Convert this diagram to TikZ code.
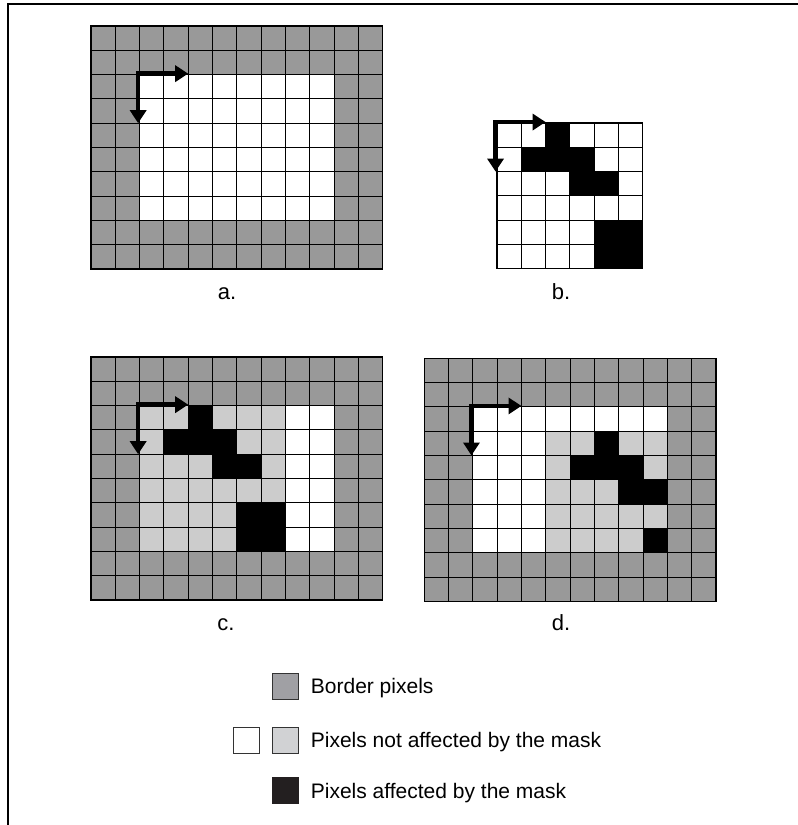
\documentclass[tikz,border=0pt]{standalone}
\usepackage{fontspec}
\setmainfont{Liberation Sans}
\usetikzlibrary{arrows.meta, positioning}
\definecolor{bordergray}{HTML}{999999}
\definecolor{freegray}{HTML}{CCCCCC}
\definecolor{keygray}{HTML}{A0A0A4}
\definecolor{keylight}{HTML}{D1D2D4}
\definecolor{keyblack}{HTML}{231F20}
\tikzset{
  gridline/.style={draw=black, line width=1pt},
  gridframe/.style={draw=black, line width=1.3pt},
  scanarrow/.style={<->, >={Triangle[length=13pt, width=16pt]},
    line width=4.5pt, draw=black},
  sublabel/.style={font=\fontsize{22}{26}\selectfont, inner sep=0pt, anchor=base},
  keybox/.style={rectangle, minimum size=26pt, inner sep=0pt,
    draw=black!80, line width=0.8pt},
  keytext/.style={font=\fontsize{21}{25}\selectfont, inner sep=0pt,
    text height=15pt, text depth=0pt},
}
% grid lines of a #1 x #2 pixel image
\newcommand{\pixgrid}[2]{%
  \foreach \c in {0,...,#1} \draw[gridline] (\c,0) -- (\c,#2);
  \foreach \r in {0,...,#2} \draw[gridline] (0,\r) -- (#1,\r);
  \draw[gridframe] (0,0) rectangle (#1,#2);}
% black pixels of the mask (column/row)
\newcommand{\maskcells}{2/0,1/1,2/1,3/1,3/2,4/2,4/4,5/4,4/5,5/5}
% scan direction arrows from pixel corner (#1,#2)
\newcommand{\scanarrows}[2]{%
  \draw[scanarrow] (#1-0.06,#2+2) -- (#1-0.06,#2-0.04) -- (#1+2,#2-0.04);}

\begin{document}
\begin{tikzpicture}[x=1pt, y=-1pt]
\useasboundingbox (0,0) rectangle (798,825);

% Frame
\draw[line width=2pt] (8,825) -- (8,4) -- (798,4);

% a. image with border
\begin{scope}[shift={(91,26)}, x=24.3pt, y=-24.3pt]
  \fill[bordergray] (0,0) rectangle (12,10);
  \fill[white] (2,2) rectangle (10,8);
  \pixgrid{12}{10}
  \scanarrows{2}{2}
\end{scope}
\node (lbla) [sublabel] at (227,299) {a.};

% b. mask
\begin{scope}[shift={(497,123)}, x=24.3pt, y=-24.3pt]
  \fill[white] (0,0) rectangle (6,6);
  \foreach \c/\r in \maskcells \fill[black] (\c,\r) rectangle ++(1,1);
  \pixgrid{6}{6}
  \scanarrows{0}{0}
\end{scope}
\node (lblb) [sublabel] at (561,299) {b.};

% c. mask at first position
\begin{scope}[shift={(91,357)}, x=24.3pt, y=-24.3pt]
  \fill[bordergray] (0,0) rectangle (12,10);
  \fill[white] (2,2) rectangle (10,8);
  \fill[freegray] (2,2) rectangle (8,8);
  \begin{scope}[shift={(2,2)}]
    \foreach \c/\r in \maskcells \fill[black] (\c,\r) rectangle ++(1,1);
  \end{scope}
  \pixgrid{12}{10}
  \scanarrows{2}{2}
\end{scope}
\node (lblc) [sublabel] at (226,630) {c.};

% d. mask moved inside the image
\begin{scope}[shift={(424.3,358.3)}, x=24.3pt, y=-24.3pt]
  \fill[bordergray] (0,0) rectangle (12,10);
  \fill[white] (2,2) rectangle (10,8);
  \begin{scope}
    \clip (2,2) rectangle (10,8);
    \fill[freegray] (5,3) rectangle (11,9);
    \begin{scope}[shift={(5,3)}]
      \foreach \c/\r in \maskcells \fill[black] (\c,\r) rectangle ++(1,1);
    \end{scope}
  \end{scope}
  \pixgrid{12}{10}
  \scanarrows{2}{2}
\end{scope}
\node (lbld) [sublabel] at (561,630) {d.};

% Legend
\node (keyborder) [keybox, fill=keygray] at (285.3,686) {};
\node (keywhite) [keybox, fill=white] at (246.3,740) {};
\node (keyfree) [keybox, fill=keylight] at (285.3,740) {};
\node (keymask) [keybox, fill=keyblack, draw=keyblack] at (285.3,790.7) {};

\node (txtborder) [keytext, right=12pt of keyborder] {Border pixels};
\node (txtfree) [keytext, right=12pt of keyfree] {Pixels not affected by the mask};
\node (txtmask) [keytext, right=12pt of keymask] {Pixels affected by the mask};

\end{tikzpicture}
\end{document}
